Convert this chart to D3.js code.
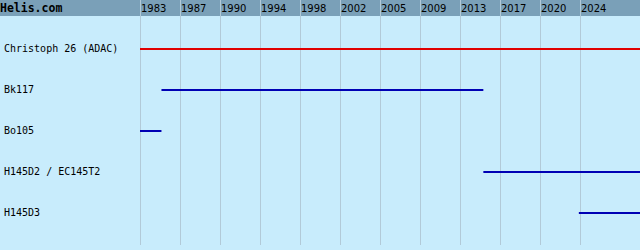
<!DOCTYPE html>
<html>
<head>
<meta charset="utf-8">
<script src="https://cdn.jsdelivr.net/npm/d3@7"></script>
<style>
  body { margin: 0; background: #c8ecfc; }
  svg { display: block; }
</style>
</head>
<body>
<svg width="640" height="250"></svg>
<script>
const rows = ["Christoph 26 (ADAC)", "Bk117", "Bo105", "H145D2 / EC145T2", "H145D3"];
const starts = [1983, 1985, 1983, 2015, 2023.9];
const ends = [2029.6, 2015, 1985, 2029.6, 2029.6];
const colors = ["#e00000", "#0000b4", "#0000b4", "#0000b4", "#0000b4"];
const tickLabels = ["1983", "1987", "1990", "1994", "1998", "2002", "2005", "2009", "2013", "2017", "2020", "2024"];

const svg = d3.select("svg");
const W = 640, H = 250;
const left = 140, headerH = 16;

svg.append("rect").attr("width", W).attr("height", H).attr("fill", "#c8ecfc");
svg.append("rect").attr("width", W).attr("height", headerH).attr("fill", "#7aa0b8");

const x = d3.scaleLinear()
  .domain([1983, 2029.6])
  .range([left, W]);

const y = d3.scaleBand()
  .domain(rows)
  .range([28, 234]);

const cy = d => Math.round(y(d) + y.bandwidth() / 2);

// tick values evenly spaced between first and last label year
const step = (2024 - 1983) / (tickLabels.length - 1);
const tickVals = tickLabels.map((d, i) => 1983 + i * step);

// gridlines
svg.append("g")
  .selectAll("line")
  .data(tickVals)
  .join("line")
  .attr("x1", d => Math.round(x(d)) + 0.5)
  .attr("x2", d => Math.round(x(d)) + 0.5)
  .attr("y1", 0)
  .attr("y2", 245)
  .attr("stroke", "#b2cad8")
  .attr("stroke-width", 1);

// year labels
svg.append("g")
  .selectAll("text")
  .data(tickVals)
  .join("text")
  .attr("x", d => Math.round(x(d)) + 1)
  .attr("y", 12)
  .attr("font-family", "DejaVu Sans, Verdana, sans-serif")
  .attr("font-size", "10px")
  .attr("fill", "#000")
  .text((d, i) => tickLabels[i]);

svg.append("text")
  .attr("x", 0)
  .attr("y", 12)
  .attr("font-family", "DejaVu Sans Mono, monospace")
  .attr("font-weight", "bold")
  .attr("font-size", "11.5px")
  .attr("fill", "#000")
  .text("Helis.com");

// row labels
svg.append("g")
  .selectAll("text")
  .data(rows)
  .join("text")
  .attr("x", 4)
  .attr("y", d => cy(d) + 3)
  .attr("font-family", "DejaVu Sans Mono, monospace")
  .attr("font-size", "10px")
  .attr("fill", "#000")
  .text(d => d);

// timeline bars
svg.append("g")
  .selectAll("line")
  .data(rows)
  .join("line")
  .attr("x1", (d, i) => x(starts[i]))
  .attr("x2", (d, i) => x(ends[i]))
  .attr("y1", d => cy(d))
  .attr("y2", d => cy(d))
  .attr("stroke", (d, i) => colors[i])
  .attr("stroke-width", 2);
</script>
</body>
</html>
